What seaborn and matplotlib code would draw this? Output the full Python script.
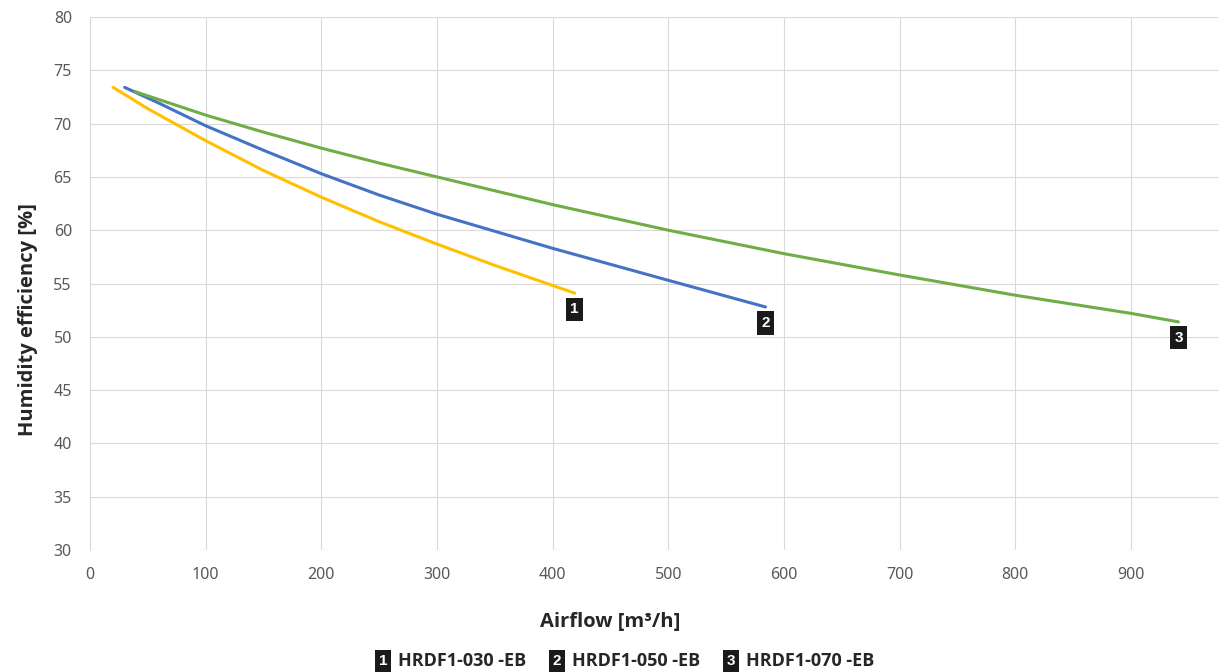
import seaborn as sns
import matplotlib.pyplot as plt
from matplotlib import font_manager
import pandas as pd

# curves
airflow_030 = [20, 50, 100, 150, 200, 250, 300, 350, 419]
eff_030 = [73.4, 71.4, 68.4, 65.6, 63.1, 60.8, 58.7, 56.7, 54.1]

airflow_050 = [30, 60, 100, 150, 200, 250, 300, 350, 400, 450, 500, 584]
eff_050 = [73.4, 71.9, 69.8, 67.5, 65.3, 63.3, 61.5, 59.9, 58.3, 56.8, 55.3, 52.8]

airflow_070 = [39, 100, 150, 200, 250, 300, 350, 400, 500, 600, 700, 800, 900, 941]
eff_070 = [73.0, 70.8, 69.2, 67.7, 66.3, 65.0, 63.7, 62.4, 60.0, 57.8, 55.8, 53.9, 52.2, 51.4]

models = ["HRDF1-030 -EB", "HRDF1-050 -EB", "HRDF1-070 -EB"]
tags = ["1", "2", "3"]
colors = ["#FFC000", "#4472C4", "#70AD47"]

df = pd.concat(
    [
        pd.DataFrame({"airflow": x, "eff": y, "model": m})
        for x, y, m in zip(
            [airflow_030, airflow_050, airflow_070],
            [eff_030, eff_050, eff_070],
            models,
        )
    ]
)

sns.set_style("whitegrid", {"grid.color": "#d9d9d9"})
plt.rcParams["font.family"] = ["Noto Sans", "DejaVu Sans"]

# pick a normal-width bold face for the labels
bold_file = None
for f in font_manager.fontManager.ttflist:
    if f.name in ("Open Sans", "Noto Sans") and f.weight in (700, "bold") and f.stretch == "normal":
        bold_file = f.fname
        break
if bold_file:
    bold = font_manager.FontProperties(fname=bold_file)
else:
    bold = font_manager.FontProperties(family="Lato", weight="bold")

fig = plt.figure(figsize=(12.19, 6.72), dpi=100)
ax = fig.add_axes([0.0738, 0.1815, 0.9252, 0.7932])

sns.lineplot(
    data=df,
    x="airflow",
    y="eff",
    hue="model",
    palette=colors,
    linewidth=2.2,
    legend=False,
    ax=ax,
    sort=True,
)

# numbered tags under each line end
tag_font = dict(color="white", fontsize=11, fontweight="bold",
                family=["Liberation Sans", "DejaVu Sans"])
for m, t in zip(models, tags):
    sub = df[df["model"] == m]
    ax.annotate(
        t,
        (sub["airflow"].iloc[-1], sub["eff"].iloc[-1]),
        xytext=(0, -11.5),
        textcoords="offset points",
        ha="center",
        va="center",
        bbox=dict(boxstyle="square,pad=0.3", fc="#1a1a1a", ec="none"),
        **tag_font,
    )

ax.set_xlim(0, 975)
ax.set_ylim(30, 80)
ax.set_xticks(range(0, 1000, 100))
ax.set_yticks(range(30, 85, 5))
ax.tick_params(labelsize=11.5, colors="#595959", length=0)
ax.tick_params(axis="x", pad=12)
ax.tick_params(axis="y", pad=13)
for s in ["top", "right", "bottom"]:
    ax.spines[s].set_visible(False)
ax.spines["left"].set_color("#d9d9d9")

lab_bold = bold.copy()
lab_bold.set_size(14.5)
ax.set_xlabel("Airflow [m³/h]", fontproperties=lab_bold, color="#262626", labelpad=21)
ax.set_ylabel("Humidity efficiency [%]", fontproperties=lab_bold, color="#262626", labelpad=11)
# Excel centres the titles slightly off the plot-area centre
ax.xaxis.label.set_x(0.4615)
ax.yaxis.label.set_y(0.4315)

# legend row at the bottom
leg_bold = bold.copy()
leg_bold.set_size(13)
leg_x = [0.3142, 0.4569, 0.5996]
for x, t, m in zip(leg_x, tags, models):
    fig.text(x, 0.0165, t, ha="center", va="center",
             bbox=dict(boxstyle="square,pad=0.25", fc="#1a1a1a", ec="none"),
             **tag_font)
    fig.text(x + 0.0125, 0.0165, m, ha="left", va="center", color="#262626",
             fontproperties=leg_bold)

fig.savefig("out.png", dpi=100)
